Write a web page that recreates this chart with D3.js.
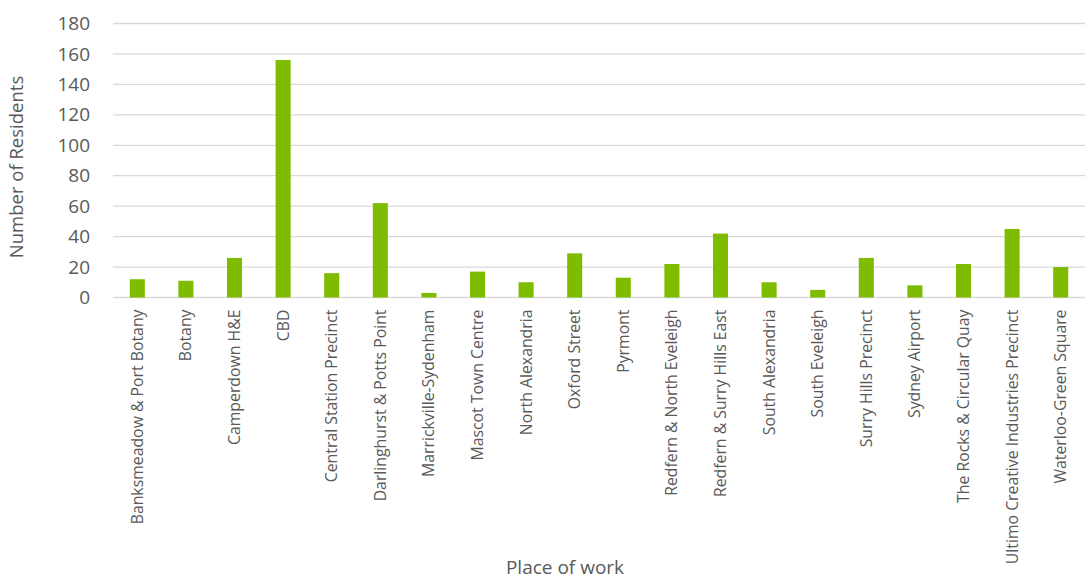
<!DOCTYPE html>
<html>
<head>
<meta charset="utf-8">
<script src="https://cdn.jsdelivr.net/npm/d3@7"></script>
<style>
  html, body { margin: 0; padding: 0; background: #fff; }
  svg { display: block; font-family: "Open Sans", sans-serif; }
</style>
</head>
<body>
<svg id="chart" width="1089" height="579"></svg>
<script>
// Residents by place of work
const places = [
  "Banksmeadow & Port Botany", "Botany", "Camperdown H&E", "CBD",
  "Central Station Precinct", "Darlinghurst & Potts Point", "Marrickville-Sydenham",
  "Mascot Town Centre", "North Alexandria", "Oxford Street", "Pyrmont",
  "Redfern & North Eveleigh", "Redfern & Surry Hills East", "South Alexandria",
  "South Eveleigh", "Surry Hills Precinct", "Sydney Airport",
  "The Rocks & Circular Quay", "Ultimo Creative Industries Precinct", "Waterloo-Green Square"
];
const residents = [12, 11, 26, 156, 16, 62, 3, 17, 10, 29, 13, 22, 42, 10, 5, 26, 8, 22, 45, 20];
const yTicks = [0, 20, 40, 60, 80, 100, 120, 140, 160, 180];

const svg = d3.select("#chart");
const plot = { left: 113, right: 1085, top: 23.5, bottom: 297.5 };
const textColor = "#595959";

const x = d3.scaleBand().domain(places).range([plot.left, plot.right]).paddingInner(0.69).paddingOuter(0.345);
const y = d3.scaleLinear().domain([0, 180]).range([plot.bottom, plot.top]);

// horizontal gridlines
svg.append("g")
  .selectAll("line")
  .data(yTicks)
  .join("line")
  .attr("x1", plot.left).attr("x2", plot.right)
  .attr("y1", d => y(d)).attr("y2", d => y(d))
  .attr("stroke", "#d9d9d9").attr("stroke-width", 1.3);

// y axis labels
const yAxis = svg.append("g")
  .attr("transform", `translate(${plot.left - 23},0)`)
  .call(d3.axisLeft(y).tickValues(yTicks).tickSize(0).tickPadding(0));
yAxis.select(".domain").remove();
yAxis.selectAll("text")
  .attr("fill", textColor)
  .style("font-size", "19px")
  .style("font-family", "'Open Sans', sans-serif");

// bars
svg.append("g")
  .selectAll("rect")
  .data(places)
  .join("rect")
  .attr("x", d => x(d))
  .attr("width", x.bandwidth())
  .attr("y", (d, i) => y(residents[i]))
  .attr("height", (d, i) => y(0) - y(residents[i]))
  .attr("fill", "#7fbc00");

// category labels
const xAxis = svg.append("g")
  .attr("transform", `translate(0,${plot.bottom})`)
  .call(d3.axisBottom(x).tickSize(0).tickPadding(0));
xAxis.select(".domain").remove();
xAxis.selectAll("text")
  .attr("fill", textColor)
  .style("font-size", "15.8px")
  .style("font-family", "'Open Sans', sans-serif")
  .attr("text-anchor", "end")
  .attr("dy", "0.35em")
  .attr("transform", "translate(0,12) rotate(-90)");

// axis titles
svg.append("text")
  .attr("transform", `translate(23,167) rotate(-90)`)
  .attr("text-anchor", "middle")
  .attr("fill", textColor)
  .style("font-size", "18.5px")
  .text("Number of Residents");

svg.append("text")
  .attr("x", 565).attr("y", 574)
  .attr("text-anchor", "middle")
  .attr("fill", textColor)
  .style("font-size", "19px")
  .text("Place of work");
</script>
</body>
</html>
